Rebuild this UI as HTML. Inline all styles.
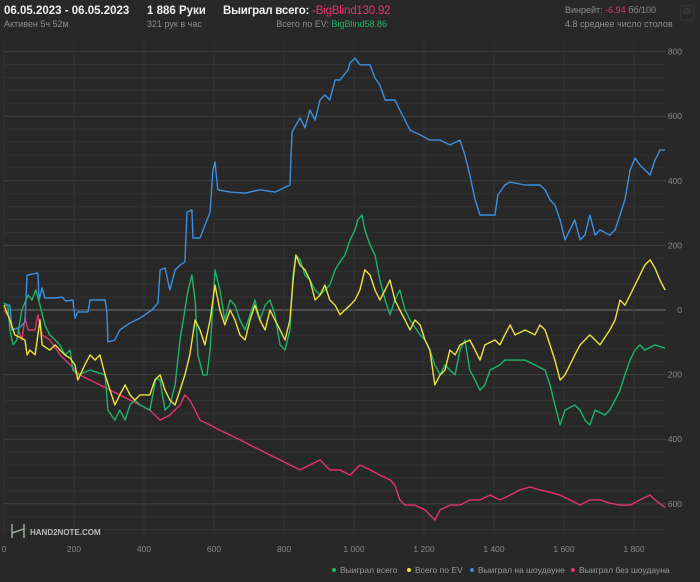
<!DOCTYPE html>
<html><head><meta charset="utf-8"><style>
body{margin:0;background:#282828;width:700px;height:582px;overflow:hidden;font-family:"Liberation Sans","Noto Sans CJK SC",sans-serif;position:relative}
.t{position:absolute;white-space:nowrap}
.h{color:#f0f0f0;font-size:11.5px;font-weight:bold;top:5px}
.s{color:#8d8d8d;font-size:9px;top:19px}
.r{color:#8d8d8d;font-size:9px}
</style></head><body>
<div class="t h" style="left:4px">06.05.2023 - 06.05.2023</div>
<div class="t s" style="left:4px">Активен 5ч 52м</div>
<div class="t h" style="left:147px">1 886 Руки</div>
<div class="t s" style="left:147px">321 рук в час</div>
<div class="t h" style="left:223px;letter-spacing:-0.2px">Выиграл всего: <span style="color:#e0356e;font-weight:normal">-BigBlind130.92</span></div>
<div class="t s" style="right:313px">Всего по EV: <span style="color:#1db36b">BigBlind58.86</span></div>
<div class="t r" style="left:565px;top:5px">Винрейт: <span style="color:#e0356e">-6.94</span> бб/100</div>
<div class="t r" style="left:565px;top:19px">4.8 среднее число столов</div>
<div class="t" style="left:680px;top:5px;width:12px;height:14px;border:1px solid #333;border-radius:3px;color:#444;font-size:10px;text-align:center;line-height:14px">⚙</div>
<svg id="c" width="700" height="582" style="position:absolute;left:0;top:0"></svg>
<script>
const xTicks=[0,200,400,600,800,1000,1200,1400,1600,1800];
const xTickLabels=["0","200","400","600","800","1 000","1 200","1 400","1 600","1 800"];
const yTicks=[800,600,400,200,0,-200,-400,-600];
const yTickLabels=["800","600","400","200","0","200","400","600"];
const blueHands=[0,17,23,46,60,66,97,100,109,117,146,166,177,197,203,211,240,246,289,294,297,317,331,360,389,423,440,446,460,474,489,503,517,523,537,540,560,589,597,603,611,646,689,731,774,817,823,846,860,874,889,903,917,931,946,960,983,989,1003,1017,1046,1060,1074,1089,1117,1131,1146,1160,1189,1217,1246,1274,1303,1317,1331,1346,1360,1403,1411,1431,1446,1489,1531,1546,1560,1574,1589,1603,1617,1631,1646,1660,1674,1689,1703,1731,1746,1760,1774,1789,1803,1817,1846,1860,1874,1889];
const blueVals=[15,15,-62,-53,-37,108,115,31,68,37,37,40,28,31,-25,-6,-6,31,31,-6,-99,-93,-62,-40,-25,0,22,124,130,62,124,139,149,303,310,223,223,303,433,458,372,365,362,372,365,387,551,595,564,619,588,650,666,650,712,712,743,765,780,759,759,718,697,650,650,619,588,557,542,526,526,511,526,480,418,341,294,294,356,387,396,387,387,372,341,325,279,217,248,279,217,232,294,232,248,232,248,294,341,433,470,449,418,464,495,495];
const greenHands=[0,11,17,26,37,51,69,80,91,103,117,131,146,160,174,189,197,211,246,289,297,317,331,346,360,374,389,417,434,446,460,474,489,503,517,526,537,546,554,569,580,589,603,617,631,646,660,674,689,703,717,731,746,760,774,789,803,817,826,834,846,860,874,889,903,931,946,960,974,989,1003,1011,1023,1031,1046,1060,1074,1089,1103,1117,1131,1146,1160,1189,1203,1217,1231,1246,1260,1274,1289,1303,1317,1331,1346,1360,1374,1389,1417,1431,1489,1517,1546,1560,1574,1589,1603,1631,1646,1660,1674,1689,1717,1731,1746,1760,1774,1789,1803,1817,1831,1860,1889];
const greenVals=[22,15,-62,-108,-93,0,46,31,62,15,-46,-77,-93,-108,-139,-124,-186,-201,-186,-201,-310,-341,-310,-341,-294,-279,-294,-310,-211,-217,-310,-294,-232,-93,0,62,108,31,-139,-201,-201,-124,124,62,-31,31,15,-31,-62,-15,31,-31,15,31,-15,-108,-124,-62,108,170,155,108,93,62,46,77,124,149,170,217,248,279,294,248,201,170,93,31,-15,31,62,0,-31,-77,-93,-124,-170,-201,-170,-186,-201,-124,-93,-186,-217,-248,-232,-186,-170,-155,-155,-170,-186,-232,-294,-356,-310,-294,-310,-341,-356,-310,-325,-310,-279,-248,-201,-155,-124,-108,-124,-108,-118];
const yellowHands=[0,17,31,60,66,74,89,103,109,131,146,160,174,189,203,211,231,246,260,274,289,303,317,331,346,360,374,389,417,431,446,460,474,489,503,517,531,546,560,574,589,603,617,631,646,660,674,689,703,717,731,746,760,774,789,803,817,826,834,846,860,874,889,903,917,931,946,960,974,989,1003,1017,1031,1046,1060,1074,1089,1103,1117,1131,1146,1160,1174,1189,1203,1217,1231,1246,1260,1274,1289,1303,1331,1346,1360,1374,1403,1417,1431,1446,1460,1489,1517,1531,1546,1560,1574,1589,1603,1617,1631,1646,1674,1703,1731,1746,1760,1774,1789,1803,1817,1831,1846,1860,1874,1889];
const yellowVals=[15,-31,-77,-93,-139,-124,-139,-31,-108,-124,-108,-124,-139,-149,-170,-217,-170,-139,-155,-139,-201,-248,-294,-263,-232,-263,-279,-263,-263,-217,-201,-248,-279,-294,-248,-201,-139,-31,-62,-108,-31,77,0,-46,0,-31,-77,-93,-31,15,-31,-62,0,-31,-62,-93,-31,93,170,139,124,93,31,46,77,31,15,-15,0,15,31,62,124,108,62,31,62,93,31,0,-31,-62,-31,-46,-93,-124,-232,-201,-186,-124,-139,-108,-93,-124,-155,-108,-93,-108,-77,-46,-77,-62,-77,-46,-62,-108,-155,-217,-201,-170,-139,-108,-77,-108,-62,-31,31,15,46,77,108,139,155,130,93,62];
const redHands=[0,17,23,40,51,60,69,89,97,109,131,160,189,217,246,274,303,331,360,389,417,446,474,503,517,531,546,560,589,617,646,674,703,731,760,789,817,846,874,903,931,960,989,1017,1046,1074,1103,1117,1131,1146,1174,1203,1231,1246,1274,1303,1331,1360,1389,1417,1446,1474,1503,1531,1560,1589,1617,1646,1674,1703,1731,1760,1789,1817,1846,1860,1889];
const redVals=[0,-25,-62,-56,-93,-25,-62,-62,-15,-77,-93,-139,-170,-201,-217,-232,-248,-263,-279,-294,-310,-341,-325,-294,-263,-279,-310,-341,-356,-372,-387,-402,-418,-433,-449,-464,-480,-495,-480,-464,-495,-495,-511,-480,-495,-511,-526,-542,-588,-604,-604,-619,-650,-619,-604,-604,-588,-588,-573,-588,-573,-557,-548,-557,-564,-573,-588,-604,-588,-588,-598,-604,-604,-588,-573,-588,-611];
const NS='http://www.w3.org/2000/svg';
const svg=document.getElementById('c');
const X0=4,X1=666,Y0=42,Y1=534;
const xs=h=>X0+h*0.35, ys=v=>310-v*0.323;
function mk(t,a){const e=document.createElementNS(NS,t);for(const k in a)e.setAttribute(k,a[k]);svg.appendChild(e);return e;}
for(let v=-680;v<=880;v+=40){const y=ys(v);if(y<Y0||y>Y1)continue;const major=v%200===0;
 const l=mk('line',{x1:X0,x2:X1,y1:y,y2:y,stroke:major?(v===0?'#5a5a5a':'#404040'):'#313131','stroke-width':major&&v===0?1.5:1});
 
 }
xTicks.forEach((h,i)=>{const x=xs(h);
 const g=mk('line',{x1:x,x2:x,y1:Y0,y2:Y1,stroke:'#323232'});
 
 
 const t=mk('text',{x:x,y:552,fill:'#888','font-size':'8.5','text-anchor':'middle'});t.textContent=xTickLabels[i];
 
 });
yTicks.forEach((v,i)=>{const t=mk('text',{x:682,y:ys(v)+3,fill:'#888','font-size':'8.5','text-anchor':'end'});t.textContent=yTickLabels[i];
 
 });
const series=[[redHands,redVals,'#e0356e','series-no-showdown'],[blueHands,blueVals,'#3b8fe0','series-showdown'],[greenHands,greenVals,'#1db36b','series-total-won'],[yellowHands,yellowVals,'#ece43c','series-ev']];
series.forEach(s=>{const p=mk('polyline',{points:s[0].map((h,i)=>xs(h).toFixed(1)+','+ys(s[1][i]).toFixed(1)).join(' '),fill:'none',stroke:s[2],'stroke-width':1.4,'stroke-linejoin':'round'});
 
 });
const legend=[['Выиграл всего','#1db36b',334],['Всего по EV','#ece43c',409],['Выиграл на шоудауне','#3b8fe0',472],['Выиграл без шоудауна','#e0356e',573]];
legend.forEach(l=>{const c=mk('circle',{cx:l[2],cy:570,r:2,fill:l[1]});
 
 
 const t=mk('text',{x:l[2]+6,y:573,fill:'#999','font-size':'8.5'});t.textContent=l[0];
 
 });
const lg=mk('text',{x:30,y:535,fill:'#bbb','font-size':'8','font-weight':'bold'});lg.textContent='HAND2NOTE.COM';


const li=mk('path',{d:'M12 524 V538 M24 524 V538 M12 533 L24 529',stroke:'#9a9',fill:'none','stroke-width':1.5});


</script>
</body></html>
